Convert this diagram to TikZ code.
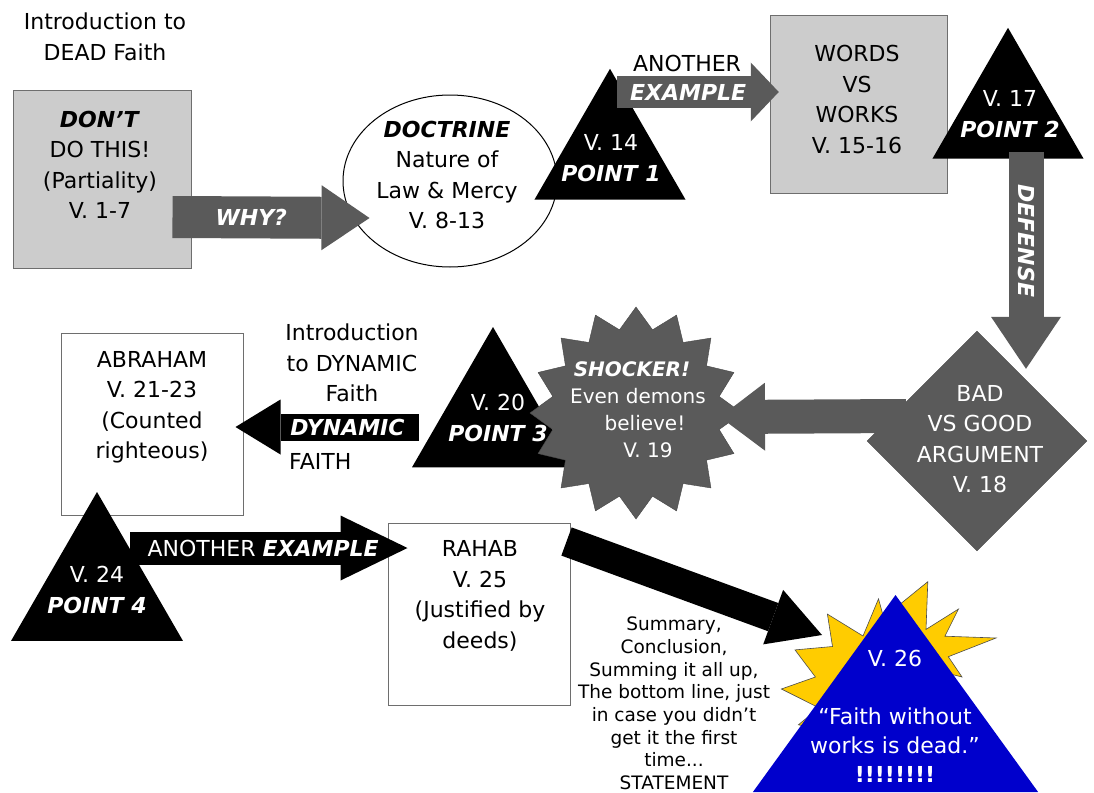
\documentclass[tikz,border=0pt]{standalone}
\usepackage{fontspec}
\setmainfont{DejaVu Sans}
\usetikzlibrary{shapes.geometric,arrows.meta,calc}
\definecolor{boxgray}{HTML}{CCCCCC}
\definecolor{arrgray}{HTML}{5A5A5A}
\definecolor{edgegray}{HTML}{6E6E6E}
\definecolor{pyrblue}{HTML}{0000CC}
\definecolor{burstyellow}{HTML}{FFCC00}
\newcommand{\bigtxt}{\fontsize{22}{30.5}\selectfont}
\newcommand{\startxt}{\fontsize{20}{27}\selectfont}
\newcommand{\quotetxt}{\fontsize{22}{29}\selectfont}
\newcommand{\smalltxt}{\fontsize{18.5}{22.7}\selectfont}
\newcommand{\bemph}[1]{\textbf{\textit{#1}}}

\begin{document}
\begin{tikzpicture}[x=1pt, y=-1pt,
    txt/.style={align=center, font=\bigtxt, inner sep=0pt},
    wtxt/.style={txt, text=white},
    sqbox/.style={draw=edgegray, line width=1pt, minimum width=#1, minimum height=#1, inner sep=0pt},
    tri/.style={regular polygon, regular polygon sides=3, fill=black, minimum size=#1, inner sep=0pt, outer sep=0pt},
    blockarrow/.style n args={4}{draw=#1, line width=#2, -{Triangle[width=#3, length=#4, line width=0pt]}}]
    \useasboundingbox (0,0) rectangle (1094,792);

    % Dead faith: first row
    \node[txt] (deadintro) at (105,37) {Introduction to\\DEAD Faith};
    \node[sqbox=178pt, fill=boxgray] (dont) at (102,179) {};
    \node[txt] (dontt) at (100,165) {\bemph{DON’T}\\DO THIS!\\(Partiality)\\V. 1-7};

    \node[draw, ellipse, line width=1pt, fill=white, minimum width=214pt, minimum height=172pt, inner sep=0pt] (doc) at (450,181) {};
    \node[txt] (doct) at (447,175) {\bemph{DOCTRINE}\\Nature of\\Law \& Mercy\\V. 8-13};

    \node[tri=174.4pt] (p1) at (610,156) {};
    \node[wtxt] (p1t) at (611,158) {V. 14\\\bemph{POINT 1}};

    \draw[blockarrow={arrgray}{42pt}{65pt}{48pt}] ($(dont.east)+(-19,38)$) -- node[wtxt, pos=0.4] (why) {\bemph{WHY?}} ($(doc.west)+(27,37)$);

    \node[sqbox=177.5pt, fill=boxgray] (words) at (859,104.5) {};
    \node[txt] (wordst) at (857,99.5) {WORDS\\VS\\WORKS\\V. 15-16};

    \node[txt] (another) at (687,63) {ANOTHER};
    \draw[blockarrow={arrgray}{32pt}{59pt}{28pt}] ($(p1.center)+(7,-64)$) -- node[wtxt, pos=0.44] (exa) {\bemph{EXAMPLE}} ($(words.west)+(9,-12.5)$);

    \node[tri=174.4pt] (p2) at (1008,115) {};
    \node[wtxt] (p2t) at (1010,114) {V. 17\\\bemph{POINT 2}};

    % Turning point
    \node[diamond, fill=arrgray, draw=arrgray!80!black, minimum width=220pt, minimum height=220pt, inner sep=0pt] (bad) at (977,441) {};
    \node[wtxt] (badt) at (980,439) {BAD\\VS GOOD\\ARGUMENT\\V. 18};

    \draw[blockarrow={arrgray}{35pt}{70pt}{52pt}] ($(p2.center)+(18,37)$) -- node[wtxt, rotate=-90, pos=0.41] (def) {\bemph{DEFENSE}} ($(bad.north)+(49,38)$);

    \node[tri=187pt] (p3) at (493,420.5) {};
    \node[star, star points=16, star point ratio=1.25, minimum size=212pt, inner sep=0pt, fill=arrgray, draw=arrgray!80!black] (shock) at (636,413) {};
    \node[wtxt] (p3t) at (498,418) {V. 20\\\bemph{POINT 3}};
    \node[wtxt, font=\startxt] (shockt) at (638,410) {\bemph{SHOCKER!}\hspace*{12pt}\\Even demons\hspace*{2pt}\\\hspace*{14pt}believe!\\\hspace*{20pt}V. 19};

    \draw[blockarrow={arrgray}{34pt}{68pt}{45pt}] ($(bad.center)+(-71,-25)$) -- ($(shock.center)+(84,4)$);

    % Dynamic faith: second row
    \node[txt] (dynintro) at (352,363) {Introduction\\to DYNAMIC\\Faith};
    \node[sqbox=182pt, fill=white] (abr) at (152,424.5) {};
    \node[txt] (abrt) at (152,407.5) {ABRAHAM\\V. 21-23\\(Counted\\righteous)};

    \draw[blockarrow={black}{27pt}{55pt}{45pt}] ($(p3.center)+(-74,6.5)$) -- node[wtxt, pos=0.39] (dyn) {\bemph{DYNAMIC}} ($(abr.east)+(-8,2.5)$);
    \node[txt, anchor=west] (faith) at (289,461) {FAITH};

    \node[sqbox=182pt, fill=white] (rahab) at (479,614) {};
    \node[txt] (rahabt) at (480,596) {RAHAB\\V. 25\\(Justified by\\deeds)};

    \node[tri=198.6pt] (p4) at (97,591.3) {};
    \draw[blockarrow={black}{33pt}{65pt}{67pt}] ($(p4.center)+(33,-43.3)$) -- node[wtxt, pos=0.48] (ex2) {ANOTHER \bemph{EXAMPLE}} ($(rahab.west)+(20,-66)$);
    \node[wtxt] (p4t) at (97,590) {V. 24\\\bemph{POINT 4}};

    % Conclusion
    \coordinate (apex) at (895.5,595);
    \coordinate (pyrl) at (752.9,792);
    \coordinate (pyrr) at (1038.1,792);
    \filldraw[fill=burstyellow, draw=black!70, line width=0.6pt]
        (827.4,614.1) -- (863,636) -- (878.5,598.8) -- (883.6,617.5) -- (927.8,581.7)
        -- (926,629.4) -- (958.5,609) -- (944.9,636.2) -- (996,638) -- (948.3,656.7)
        -- (962,677) -- (934.7,670) -- (863,738) -- (798.4,724.8) -- (818.9,707.8)
        -- (781.4,689) -- (815.4,677) -- (795,649.9) -- (832.5,646.5) -- cycle;
    \fill[pyrblue] (apex) -- (pyrl) -- (pyrr) -- cycle;
    \node[wtxt] (v26) at (895,658) {V. 26};
    \node[wtxt, font=\quotetxt] (quote) at (895,745) {“Faith without\\works is dead.”\\\textbf{!!!!!!!!}};

    \draw[blockarrow={black}{30pt}{58pt}{52pt}] ($(rahab.north east)+(-4,19)$) -- ($(apex)+(-73.5,40)$);

    \node[txt, font=\smalltxt] (summary) at (674,703.5) {Summary,\\Conclusion,\\Summing it all up,\\The bottom line, just\\in case you didn’t\\get it the first\\time...\\STATEMENT};
\end{tikzpicture}
\end{document}
